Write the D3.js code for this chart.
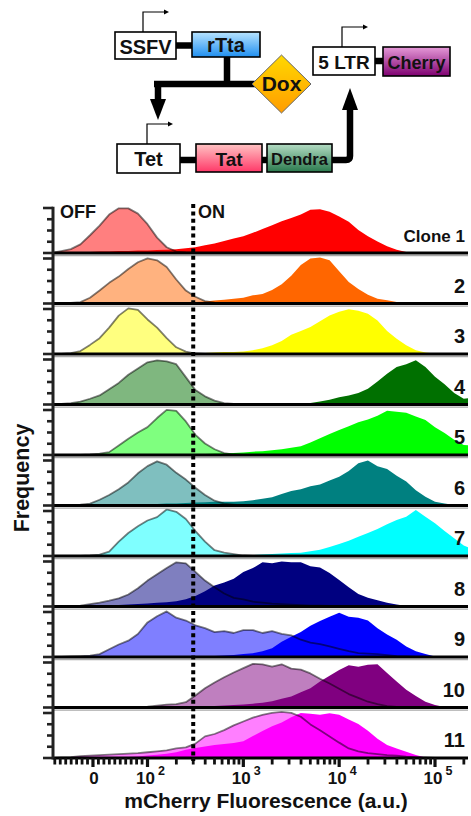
<!DOCTYPE html>
<html><head><meta charset="utf-8">
<script src="https://cdn.jsdelivr.net/npm/d3@7"></script>
<style>
body{margin:0;background:#fff}
svg{display:block}
text{font-family:"Liberation Sans",Arial,Helvetica,sans-serif;font-weight:bold;fill:#111}
</style>
</head><body>
<svg id="c" width="471" height="816"></svg>
<script>
// ---------- DATA ----------
// bin centres on the display (transformed) axis: log10 above 100, linear below
const binU = [1.0,1.1,1.2,1.3,1.4,1.5,1.6,1.7,1.8,1.9,
              2.0,2.1,2.2,2.3,2.4,2.5,2.6,2.7,2.8,2.9,
              3.0,3.1,3.2,3.3,3.4,3.5,3.6,3.7,3.8,3.9,
              4.0,4.1,4.2,4.3,4.4,4.5,4.6,4.7,4.8,4.9,
              5.0,5.1,5.2,5.3,5.4];
const clones = ["Clone 1","2","3","4","5","6","7","8","9","10","11"];
const onColors = ["#ff0000","#ff6600","#ffff00","#007000","#00ff00","#008080","#00ffff","#000080","#0000ff","#800080","#ff00ff"];
const offHist = [
 [0,4,8,18,37,57,80,93,93,82, 60,32,12,3,1,0,0,0,0,0, 0,0,0,0,0,0,0,0,0,0, 0,0,0,0,0,0,0,0,0,0, 0,0,0,0,0],
 [0,0,1,3,12,27,43,56,72,86, 94,90,76,50,27,14,5,2,0,0, 0,0,0,0,0,0,0,0,0,0, 0,0,0,0,0,0,0,0,0,0, 0,0,0,0,0],
 [0,0,2,6,19,33,55,80,95,92, 72,55,33,14,5,1,0,0,0,0, 0,0,0,0,0,0,0,0,0,0, 0,0,0,0,0,0,0,0,0,0, 0,0,0,0,0],
 [0,1,3,6,12,19,32,45,62,75, 88,92,90,84,57,30,17,8,3,1, 0,0,0,0,0,0,0,0,0,0, 0,0,0,0,0,0,0,0,0,0, 0,0,0,0,0],
 [0,0,0,0,1,3,6,20,34,47, 58,77,94,92,70,42,24,12,4,1, 0,0,0,0,0,0,0,0,0,0, 0,0,0,0,0,0,0,0,0,0, 0,0,0,0,0],
 [0,0,1,2,4,12,22,34,48,67, 82,92,85,68,54,37,22,10,4,2, 0,0,0,0,0,0,0,0,0,0, 0,0,0,0,0,0,0,0,0,0, 0,0,0,0,0],
 [0,0,0,0,1,3,9,30,48,62, 74,81,97,92,77,52,30,12,7,4, 1,0,0,0,0,0,0,0,0,0, 0,0,0,0,0,0,0,0,0,0, 0,0,0,0,0],
 [0,0,1,2,5,8,12,17,25,38, 54,67,80,92,90,72,54,40,27,18, 15,10,8,6,5,4,3,2,2,1, 0,0,0,0,0,0,0,0,0,0, 0,0,0,0,0],
 [0,0,1,2,3,6,16,26,34,48, 72,85,95,82,76,66,60,52,54,50, 56,56,50,54,48,45,36,30,27,22, 17,12,8,7,6,4,2,1,0,0, 0,0,0,0,0],
 [0,0,0,0,0,0,0,0,0,1, 2,4,6,7,11,25,40,52,63,73, 82,91,90,85,90,81,79,71,60,50, 39,28,20,12,7,3,1,0,0,0, 0,0,0,0,0],
 [0,1,2,4,5,6,7,8,9,10, 12,14,16,20,22,30,45,50,58,68, 76,84,90,94,96,94,86,70,58,45, 32,20,14,10,8,6,5,3,2,1, 0,0,0,0,0]
];
const onHist = [
 [0,1,1,2,2,3,3,4,4,5, 5,6,7,8,10,12,16,20,25,30, 35,42,50,58,66,73,80,90,91,86, 76,65,48,35,24,14,7,2,1,0, 0,0,0,0,0],
 [0,0,0,0,0,0,0,0,0,0, 0,0,0,1,2,3,4,6,8,10, 12,17,20,28,40,58,80,94,96,90, 67,45,30,18,10,7,3,1,0,0, 0,0,0,0,0],
 [0,0,0,0,0,0,0,0,0,0, 0,0,0,0,1,1,2,3,4,4, 5,8,12,18,27,40,48,56,68,80, 88,93,90,84,70,48,32,18,8,3, 1,0,0,0,0],
 [0,0,0,0,0,0,0,0,0,0, 0,0,0,0,0,0,0,0,0,0, 0,0,0,0,0,1,2,3,6,10, 15,19,24,33,48,64,78,84,92,78, 58,42,24,12,14],
 [0,0,0,0,0,0,0,0,0,0, 0,0,0,1,1,2,2,3,3,4, 5,7,8,10,12,15,18,26,35,44, 52,60,68,74,82,92,90,88,80,73, 58,46,32,21,20],
 [0,0,0,0,0,1,1,2,2,2, 3,3,4,4,5,6,7,8,8,8, 9,11,14,17,24,30,34,40,44,52, 60,72,88,94,82,76,62,50,32,18, 8,4,1,0,0],
 [0,0,0,0,0,0,0,0,0,0, 0,0,0,0,0,0,0,0,1,1, 2,2,3,4,5,6,7,10,13,19, 25,32,40,48,56,66,75,82,96,82, 68,52,37,22,14],
 [0,0,0,0,1,1,2,3,4,5, 6,8,9,11,15,22,32,44,50,58, 72,80,92,90,94,92,92,84,81,70, 55,40,26,18,13,8,4,1,0,0, 0,0,0,0,0],
 [0,0,0,0,0,0,0,0,0,0, 0,0,0,0,0,1,1,2,3,4, 6,8,12,18,32,42,52,65,75,84, 92,84,82,76,60,47,36,22,12,6, 1,0,0,0,0],
 [0,0,0,0,0,0,0,0,0,0, 0,0,0,0,1,1,2,3,4,5, 6,8,10,13,18,23,32,40,54,66, 78,88,85,89,90,72,54,37,24,12, 5,1,0,0,0],
 [0,0,0,0,0,0,0,1,2,3, 5,7,9,12,17,21,24,27,29,31, 35,46,56,66,74,85,94,92,90,93, 90,80,71,57,40,27,20,13,6,1, 0,0,0,0,0]
];
const xMajorTicks = [0,100,1000,10000,100000];
const xTickBase   = ["0","10","10","10","10"];
const xTickExp    = ["","2","3","4","5"];
const xMinorTicks = [-70,-60,-50,-40,-30,-20,-10,10,20,30,40,50,60,70,80,90,
  200,300,400,500,600,700,800,900,2000,3000,4000,5000,6000,7000,8000,9000,
  20000,30000,40000,50000,60000,70000,80000,90000,200000];
const yTickFracs = [0,25,50,75,100];
const gateValue = 300;

// ---------- LAYOUT ----------
const svg = d3.select("#c");
const plotL = 53, plotR = 468;
const firstBase = 253, rowStep = 50.5, rowH = 48, tickSpan = 45;
function toU(v){ return v >= 100 ? Math.log10(v) : 2 - (100 - v) / 100 * 0.569; }
const x = d3.scaleLinear().domain([2,5]).range([147.5,435]);

// ---------- DIAGRAM ----------
const defs = svg.append("defs");
function grad(id, c1, c2){
  const g = defs.append("linearGradient").attr("id",id).attr("x1",0).attr("y1",0).attr("x2",0).attr("y2",1);
  g.append("stop").attr("offset","0%").attr("stop-color",c1);
  g.append("stop").attr("offset","100%").attr("stop-color",c2);
}
grad("gBlue","#b8e4ff","#1f8ff0");
grad("gDox","#ffd800","#ff9c00");
grad("gTat","#ffc4c4","#ff3868");
grad("gDen","#b4dcc4","#2b7a4e");
grad("gChe","#e69ad8","#7e0070");
defs.append("clipPath").attr("id","plotClip").append("rect")
  .attr("x",plotL+1.5).attr("y",150).attr("width",plotR-plotL-1.5).attr("height",620);

const dg = svg.append("g");
const thick = 6.5;
dg.append("line").attr("x1",176).attr("x2",192).attr("y1",45.5).attr("y2",45.5).attr("stroke","#000").attr("stroke-width",thick);
dg.append("path").attr("d","M227,57 V84 M154,84 H258").attr("stroke","#000").attr("stroke-width",thick).attr("fill","none");
dg.append("path").attr("d","M158,84 V102").attr("stroke","#000").attr("stroke-width",thick).attr("fill","none");
dg.append("path").attr("d","M150,99 L166,99 L158,120 Z").attr("fill","#000");
dg.append("line").attr("x1",180).attr("x2",196).attr("y1",160).attr("y2",160).attr("stroke","#000").attr("stroke-width",thick);
dg.append("line").attr("x1",262).attr("x2",267).attr("y1",160).attr("y2",160).attr("stroke","#000").attr("stroke-width",thick);
dg.append("path").attr("d","M332,160 H346 Q350,160 350,156 V106").attr("stroke","#000").attr("stroke-width",thick).attr("fill","none");
dg.append("path").attr("d","M342,110 L358,110 L350,88 Z").attr("fill","#000");
dg.append("line").attr("x1",375).attr("x2",383).attr("y1",61).attr("y2",61).attr("stroke","#000").attr("stroke-width",thick);
function promoter(px, py, len){
  dg.append("path").attr("d",`M${px},${py} V${py-20} H${px+len}`).attr("stroke","#000").attr("stroke-width",1.2).attr("fill","none");
  dg.append("path").attr("d",`M${px+len},${py-22.5} L${px+len+5},${py-20} L${px+len},${py-17.5} Z`).attr("fill","#000");
}
promoter(143,32,21);
promoter(147,144,21);
promoter(342,47,21);
const boxes = [
  {t:"SSFV",x:115,y:32,w:61,h:27,f:"#fff",ty:53.5,fs:20},
  {t:"rTta",x:192,y:32,w:68,h:25,f:"url(#gBlue)",ty:52,fs:20},
  {t:"Tet",x:117,y:144,w:63,h:29,f:"#fff",ty:165.5,fs:20},
  {t:"Tat",x:196,y:144,w:66,h:28,f:"url(#gTat)",ty:165.5,fs:19},
  {t:"Dendra",x:267,y:144,w:65,h:28,f:"url(#gDen)",ty:165,fs:16.5},
  {t:"5 LTR",x:313,y:47,w:62,h:28,f:"#fff",ty:68.5,fs:19},
  {t:"Cherry",x:383,y:47,w:67,h:29,f:"url(#gChe)",ty:68.5,fs:18}
];
boxes.forEach(b=>{
  dg.append("rect").attr("x",b.x).attr("y",b.y).attr("width",b.w).attr("height",b.h)
    .attr("fill",b.f).attr("stroke","#000").attr("stroke-width",1.6);
  dg.append("text").attr("x",b.x+b.w/2).attr("y",b.ty).attr("text-anchor","middle")
    .attr("font-size",b.fs).text(b.t);
});
dg.append("path").attr("d","M281.5,55 L311,84 L281.5,113 L252,84 Z").attr("fill","url(#gDox)").attr("stroke","#666").attr("stroke-width",1);
dg.append("text").attr("x",281.5).attr("y",91).attr("text-anchor","middle").attr("font-size",21).text("Dox");

// ---------- HISTOGRAMS ----------
const plot = svg.append("g");
const hist = plot.append("g").attr("clip-path","url(#plotClip)");
clones.forEach((name,i)=>{
  const base = firstBase + i*rowStep;
  const y = d3.scaleLinear().domain([0,100]).range([base, base-rowH]);
  const area = d3.area().x((d,k)=>x(binU[k])).y0(base).y1(d=>y(d));
  const line = d3.line().x((d,k)=>x(binU[k])).y(d=>y(d));
  hist.append("path").attr("d",area(offHist[i])).attr("fill",onColors[i]).attr("fill-opacity",0.5);
  hist.append("path").attr("d",area(onHist[i])).attr("fill",onColors[i]);
  hist.append("path").attr("d",line(offHist[i])).attr("fill","none").attr("stroke","#000")
    .attr("stroke-opacity",0.5).attr("stroke-width",1.8).attr("stroke-linejoin","round");
  if(i<clones.length-1){
    plot.append("line").attr("x1",plotL).attr("x2",plotR).attr("y1",base+2.6).attr("y2",base+2.6)
      .attr("stroke","#a8a8a8").attr("stroke-width",1.4);
  }
  plot.append("line").attr("x1",plotL).attr("x2",plotR).attr("y1",base).attr("y2",base)
    .attr("stroke","#000").attr("stroke-width",3);
  const yt = d3.scaleLinear().domain([0,100]).range([base, base-tickSpan]);
  yTickFracs.forEach(f=>{
    const major = (f===0||f===100);
    plot.append("line").attr("x1",plotL-(major?10:6)).attr("x2",plotL).attr("y1",yt(f)).attr("y2",yt(f))
      .attr("stroke","#222").attr("stroke-width",2.6);
  });
  plot.append("text").attr("x",465).attr("y",base-11).attr("text-anchor","end")
    .attr("font-size", name.length>3 ? 17 : 20).text(name);
});
plot.append("line").attr("x1",plotL).attr("x2",plotL).attr("y1",firstBase-tickSpan-1.3).attr("y2",firstBase+10*rowStep+1.5)
  .attr("stroke","#222").attr("stroke-width",3);

// ---------- X AXIS ----------
const axisY = firstBase + 10*rowStep;
const ax = svg.append("g");
xMinorTicks.forEach(v=>{
  const px = x(toU(v));
  if(px>plotR) return;
  ax.append("line").attr("x1",px).attr("x2",px).attr("y1",axisY).attr("y2",axisY+6.5).attr("stroke","#111").attr("stroke-width",2.8);
});
xMajorTicks.forEach((v,k)=>{
  const px = x(toU(v));
  ax.append("line").attr("x1",px).attr("x2",px).attr("y1",axisY).attr("y2",axisY+9).attr("stroke","#111").attr("stroke-width",3.2);
  ax.append("text").attr("x", xTickExp[k] ? px - 2 : px + 1).attr("y",783.5)
    .attr("text-anchor","middle").attr("font-size",17).text(xTickBase[k]);
  if(xTickExp[k]) ax.append("text").attr("x",px+10.5).attr("y",775).attr("font-size",12.5).text(xTickExp[k]);
});
ax.append("text").attr("x",266).attr("y",807.5).attr("text-anchor","middle").attr("font-size",21)
  .text("mCherry Fluorescence (a.u.)");
svg.append("text").attr("transform","translate(29,478) rotate(-90)").attr("text-anchor","middle")
  .attr("font-size",21.5).text("Frequency");

const gx = x(toU(gateValue));
svg.append("line").attr("x1",gx).attr("x2",gx).attr("y1",204).attr("y2",axisY+3)
  .attr("stroke","#000").attr("stroke-width",4).attr("stroke-dasharray","4,3.4");
svg.append("text").attr("x",60).attr("y",218).attr("font-size",18).text("OFF");
svg.append("text").attr("x",198).attr("y",218).attr("font-size",18).text("ON");
</script>
</body></html>
